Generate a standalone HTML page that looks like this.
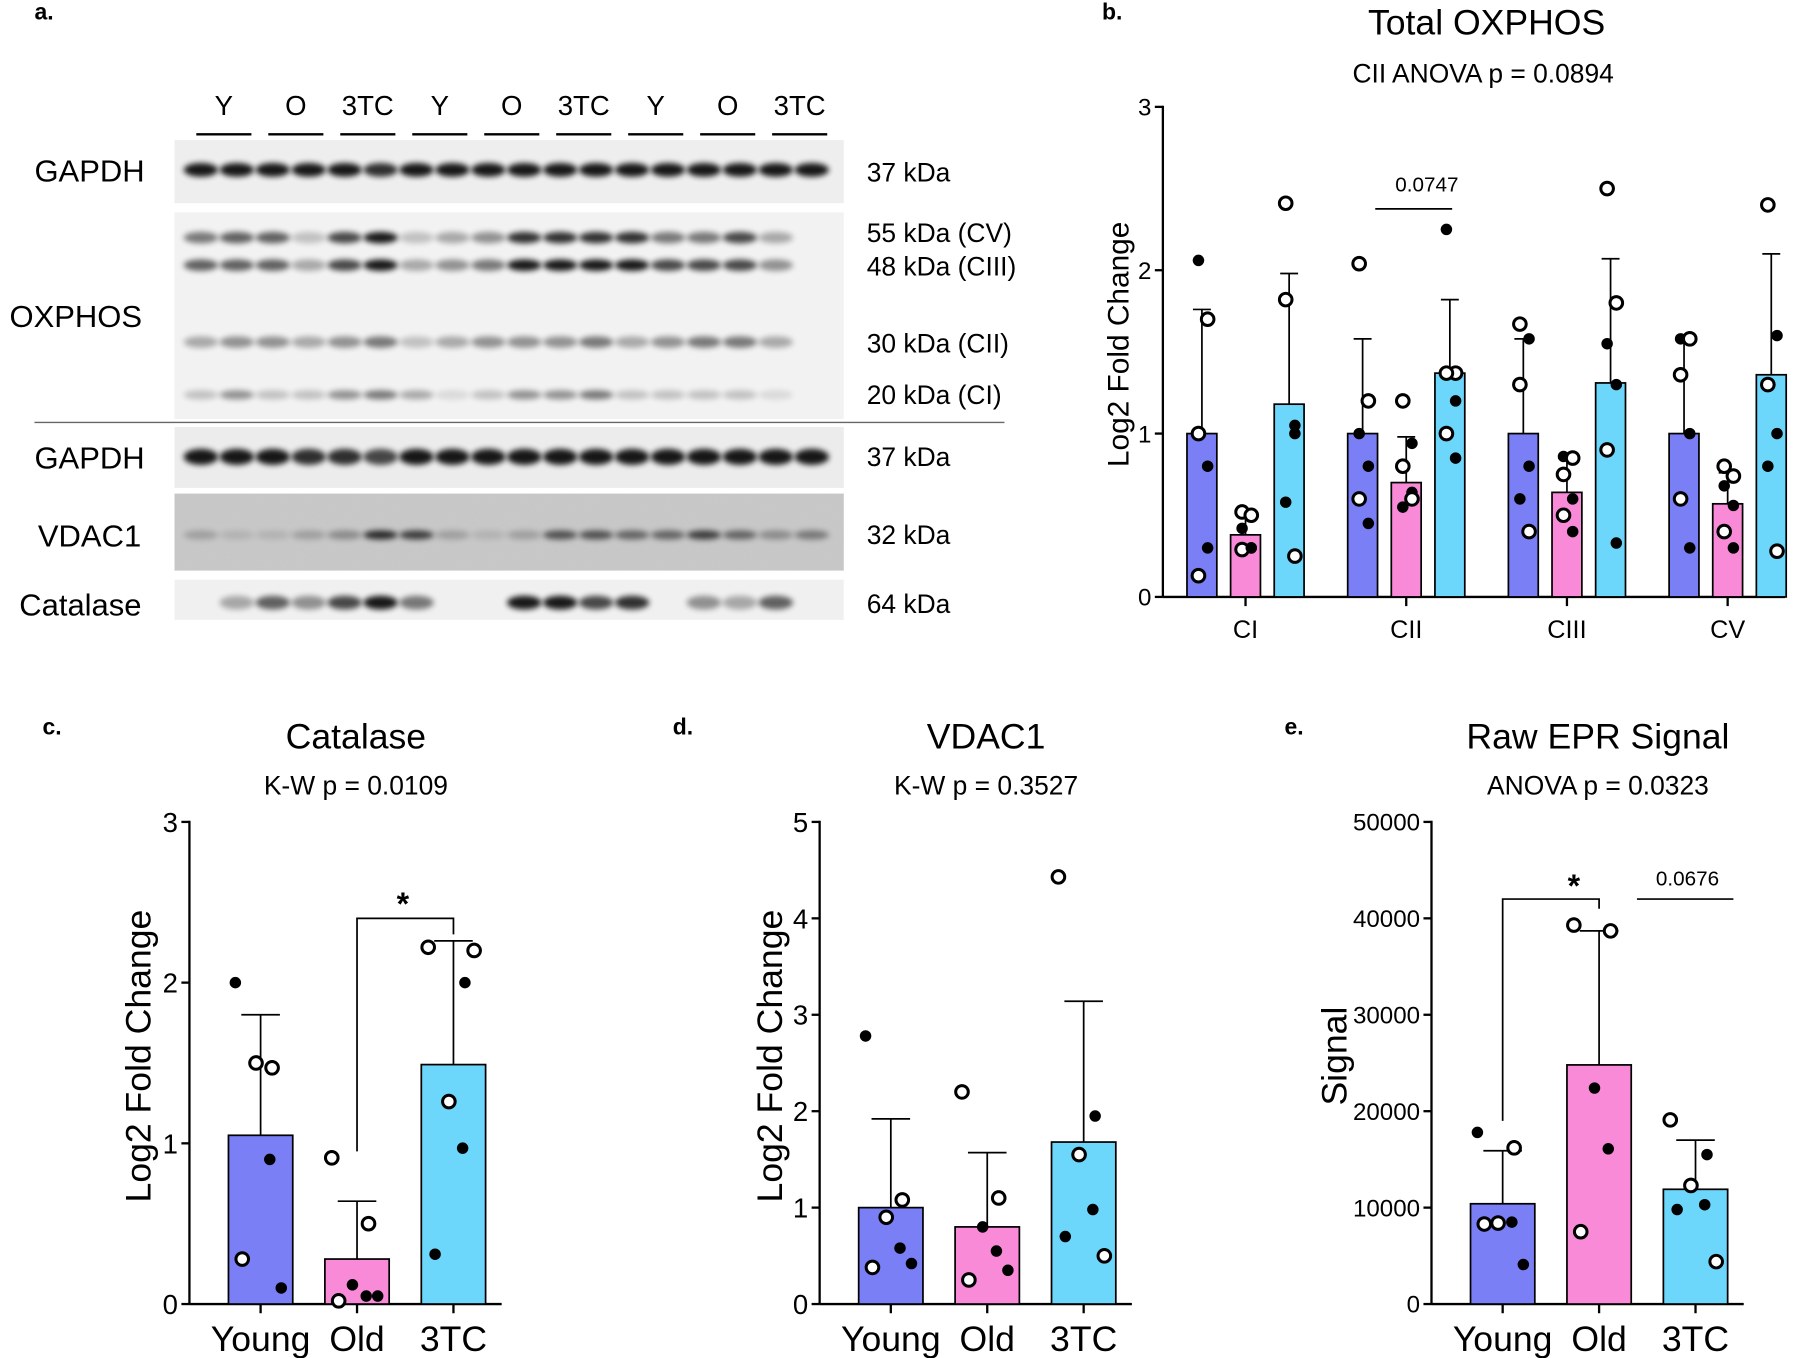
<!DOCTYPE html>
<html><head><meta charset="utf-8"><style>
html,body{margin:0;padding:0;background:#fff}
svg{display:block}
text{font-family:"Liberation Sans",Arial,sans-serif;fill:#000}
</style></head><body>
<svg id="s" width="1800" height="1358" viewBox="0 0 1568 1183" xmlns="http://www.w3.org/2000/svg">
<defs><filter id="bl" x="-50%" y="-100%" width="200%" height="300%"><feGaussianBlur stdDeviation="2.5"/></filter>
<filter id="nz" x="0" y="0" width="1" height="1"><feTurbulence type="fractalNoise" baseFrequency="0.9" numOctaves="2" seed="3"/><feColorMatrix type="matrix" values="0 0 0 0 0.5  0 0 0 0 0.5  0 0 0 0 0.5  0 0 0 0.5 0"/></filter></defs>
<g id="blot"></g>
<g id="charts"></g>
</svg>
<script>
const NS="http://www.w3.org/2000/svg";
function mk(p,tag,a,txt){const e=document.createElementNS(NS,tag);for(const k in a)e.setAttribute(k,a[k]);if(txt!==undefined)e.textContent=txt;p.appendChild(e);return e;}
const C={Y:"#7b7ff5",O:"#f98ad8",T:"#6dd6fb"};

// ---- Blot ----
const blot=document.getElementById('blot');
mk(blot,'text',{x:30,y:17,'font-size':20,'font-weight':'bold'},'a.');
const laneHdr=["Y","O","3TC","Y","O","3TC","Y","O","3TC"];
laneHdr.forEach((t,i)=>{const cx=195+i*62.7;mk(blot,'text',{x:cx,y:100,'font-size':24,'text-anchor':'middle'},t);mk(blot,'line',{x1:cx-24,x2:cx+24,y1:117,y2:117,stroke:'#000','stroke-width':2});});
const boxes=[[122,177,'#eeeeee'],[185,365,'#f2f2f2'],[372,425,'#ececec'],[430,497,'#c9c9c9'],[505,540,'#f0f0f0']];
boxes.forEach(b=>{mk(blot,'rect',{x:152,y:b[0],width:583,height:b[1]-b[0],fill:b[2]});});
mk(blot,'rect',{x:152,y:430,width:583,height:67,filter:'url(#nz)',opacity:0.5});
mk(blot,'line',{x1:30,x2:875,y1:368,y2:368,stroke:'#666','stroke-width':1.2});
const rows=[[148,[.9,.9,.9,.9,.9,.8,.9,.9,.9,.9,.9,.9,.9,.9,.9,.9,.9,.9],6],
[207,[.5,.6,.6,.2,.7,.9,.2,.3,.4,.8,.8,.8,.8,.5,.5,.7,.3,0],5],
[231,[.6,.6,.6,.3,.7,.9,.3,.4,.5,.9,.9,.9,.9,.7,.7,.7,.4,0],5],
[298,[.3,.4,.4,.3,.4,.5,.2,.3,.4,.4,.4,.5,.3,.4,.5,.5,.3,0],5],
[344,[.2,.4,.2,.2,.4,.5,.3,.1,.2,.4,.4,.5,.2,.2,.2,.2,.1,0],4],
[398,[.9,.9,.9,.8,.8,.7,.9,.9,.9,.9,.9,.9,.9,.9,.9,.9,.9,.9],7],
[466,[.2,.1,.1,.2,.3,.8,.7,.2,.1,.2,.6,.6,.5,.5,.7,.5,.3,.4],4],
[525,[0,.3,.6,.4,.7,.9,.5,0,0,.9,.9,.7,.8,0,.4,.3,.6,0],6]];
rows.forEach(r=>{r[1].forEach((v,i)=>{if(v>0)mk(blot,'ellipse',{cx:175+i*31.3,cy:r[0],rx:15,ry:r[2],fill:'#000',opacity:v,filter:'url(#bl)'});});});
[["GAPDH",78,158],["OXPHOS",66,285],["GAPDH",78,408],["VDAC1",78,476],["Catalase",70,536]].forEach(l=>mk(blot,'text',{x:l[1],y:l[2],'font-size':27,'text-anchor':'middle'},l[0]));
[["37 kDa",158],["55 kDa (CV)",211],["48 kDa (CIII)",240],["30 kDa (CII)",307],["20 kDa (CI)",352],["37 kDa",406],["32 kDa",474],["64 kDa",534]].forEach(l=>mk(blot,'text',{x:755,y:l[1],'font-size':23},l[0]));

// ---- Chart data ----
const oxCats=["CI","CII","CIII","CV"];
const oxMeanY=[1.0,1.0,1.0,1.0], oxMeanO=[0.38,0.7,0.64,0.57], oxMeanT=[1.18,1.37,1.31,1.36];
const oxErrY=[1.76,1.58,1.58,1.58], oxErrO=[0.5,0.98,0.85,0.76], oxErrT=[1.98,1.82,2.07,2.1];
const oxPtsY=[[2.06,1.7,1.0,0.8,0.13,0.3],[2.04,1.2,1.0,0.8,0.6,0.45],[1.67,1.58,1.3,0.8,0.6,0.4],[1.58,1.58,1.36,1.0,0.6,0.3]];
const oxPtsO=[[0.52,0.5,0.42,0.3,0.29,0.3],[1.2,0.94,0.8,0.64,0.55,0.6],[0.86,0.85,0.75,0.6,0.5,0.4],[0.8,0.74,0.68,0.56,0.4,0.3]];
const oxPtsT=[[2.41,1.0,1.82,1.05,0.58,0.25],[2.25,1.37,1.37,1.2,1.0,0.85],[2.5,1.8,1.55,1.3,0.9,0.33],[2.4,1.6,1.3,1.0,0.8,0.28]];
const grpNames=["Young","Old","3TC"];
const catMean=[1.05,0.28,1.49], catErr=[1.8,0.64,2.26];
const catPts=[[2.0,1.47,1.5,0.9,0.28,0.1],[0.91,0.5,0.12,0.05,0.02,0.05],[2.22,2.0,1.26,0.97,0.31,2.2]];
const vdMean=[1.0,0.8,1.68], vdErr=[1.92,1.57,3.14];
const vdPts=[[2.78,1.08,0.9,0.58,0.38,0.42],[2.2,1.1,0.8,0.55,0.25,0.35],[4.43,1.95,1.55,0.98,0.7,0.5]];
const eprMean=[10400,24800,11900], eprErr=[15900,38700,17000];
const eprPts=[[17800,16200,8400,8500,8300,4100],[39300,38700,22400,16100,7500],[19100,15500,12300,10300,9800,4400]];
const openMask=[[0,1,1,0,1,0],[1,1,0,0,1,0],[1,0,1,0,0,1]];

const ch=document.getElementById('charts');
function dot(g,x,y,open,name){const c=mk(g,'circle',{cx:x,cy:y,r:open?5.5:5,fill:open?'#fff':'#000',stroke:'#000','stroke-width':open?2.6:0});

}
function bar(g,cx,w,y0,yv,ye,col,name){
 const r=mk(g,'rect',{x:cx-w/2,y:Math.min(yv,y0),width:w,height:Math.abs(y0-yv),fill:col,stroke:'#000','stroke-width':1.5});
 
 
 mk(g,'line',{x1:cx,x2:cx,y1:yv,y2:ye,stroke:'#000','stroke-width':1.5});
 mk(g,'line',{x1:cx-w*0.3,x2:cx+w*0.3,y1:ye,y2:ye,stroke:'#000','stroke-width':1.5});
}
function yAxis(g,x,y0,y1,ticks,scale,fs){
 mk(g,'line',{x1:x,x2:x,y1:y0,y2:y1-1,stroke:'#000','stroke-width':2});
 ticks.forEach(t=>{const y=scale(t);mk(g,'line',{x1:x-7,x2:x,y1:y,y2:y,stroke:'#000','stroke-width':2});mk(g,'text',{x:x-10,y:y+fs*0.36,'font-size':fs,'text-anchor':'end'},String(t));});
}

// Panel b
(function(){
 const g=mk(ch,'g',{});
 const y0=520,k=142.3,ys=v=>y0-v*k;
 const xc=i=>1085+i*140;
 mk(g,'text',{x:960,y:17,'font-size':20,'font-weight':'bold'},'b.');
 mk(g,'text',{x:1295,y:30,'font-size':31,'text-anchor':'middle'},'Total OXPHOS');
 mk(g,'text',{x:1292,y:72,'font-size':23,'text-anchor':'middle'},'CII ANOVA p = 0.0894');
 mk(g,'text',{transform:'translate(983,300) rotate(-90)','font-size':26,'text-anchor':'middle'},'Log2 Fold Change');
 yAxis(g,1013,y0,ys(3),[0,1,2,3],ys,21);
 mk(g,'line',{x1:1013,x2:1555,y1:y0,y2:y0,stroke:'#000','stroke-width':2});
 const sets=[[oxMeanY,oxErrY,oxPtsY,C.Y,-38],[oxMeanO,oxErrO,oxPtsO,C.O,0],[oxMeanT,oxErrT,oxPtsT,C.T,38]];
 oxCats.forEach((c,i)=>{
  mk(g,'line',{x1:xc(i),x2:xc(i),y1:y0,y2:y0+8,stroke:'#000','stroke-width':2});
  mk(g,'text',{x:xc(i),y:y0+36,'font-size':22,'text-anchor':'middle'},c);
  sets.forEach((s,j)=>{const cx=xc(i)+s[4];bar(g,cx,26,y0,ys(s[0][i]),ys(s[1][i]),s[3],'bar-'+c.toLowerCase()+'-'+grpNames[j].toLowerCase());
   s[2][i].forEach((v,p)=>dot(g,cx+(p%2?5:-3),ys(v),openMask[(i+j)%3][p],'point'));});
 });
 mk(g,'line',{x1:1198,x2:1265,y1:182,y2:182,stroke:'#000','stroke-width':1.5});
 mk(g,'text',{x:1243,y:167,'font-size':18,'text-anchor':'middle'},'0.0747');
})();

function groupChart(o){
 const g=mk(ch,'g',{});
 const y0=1136,ys=v=>y0-v*o.k;
 const xc=i=>o.x+62+i*84;
 mk(g,'text',{x:o.x-128,y:640,'font-size':20,'font-weight':'bold'},o.letter);
 mk(g,'text',{x:o.x+145,y:652,'font-size':31,'text-anchor':'middle'},o.title);
 mk(g,'text',{x:o.x+145,y:692,'font-size':23,'text-anchor':'middle'},o.sub);
 mk(g,'text',{transform:`translate(${o.ylx},920) rotate(-90)`,'font-size':31,'text-anchor':'middle'},o.ylab);
 yAxis(g,o.x,y0,ys(o.max),o.ticks,ys,o.fs);
 mk(g,'line',{x1:o.x,x2:o.x+272,y1:y0,y2:y0,stroke:'#000','stroke-width':2});
 const cols=[C.Y,C.O,C.T];
 grpNames.forEach((n,i)=>{
  mk(g,'line',{x1:xc(i),x2:xc(i),y1:y0,y2:y0+8,stroke:'#000','stroke-width':2});
  mk(g,'text',{x:xc(i),y:y0+41,'font-size':31,'text-anchor':'middle'},n);
  bar(g,xc(i),56,y0,ys(o.mean[i]),ys(o.err[i]),cols[i],'bar-'+n.toLowerCase());
  o.pts[i].forEach((v,p)=>dot(g,xc(i)+[-22,10,-4,8,-16,18][p],ys(v),openMask[i][p],'point'));
 });
 if(o.extra)o.extra(g,xc,ys);
}
groupChart({name:'catalase-chart',letter:'c.',title:'Catalase',sub:'K-W p = 0.0109',ylab:'Log2 Fold Change',ylx:131,x:165,k:140,max:3,fs:24,ticks:[0,1,2,3],mean:catMean,err:catErr,pts:catPts,
 extra:(g,xc,ys)=>{mk(g,'path',{d:`M${xc(1)} ${ys(0.95)} V${ys(2.4)} H${xc(2)} V${ys(2.3)}`,fill:'none',stroke:'#000','stroke-width':1.5});mk(g,'text',{x:351,y:ys(2.4)-3,'font-size':28,'text-anchor':'middle','font-weight':'bold'},'*');}});
groupChart({name:'vdac1-chart',letter:'d.',title:'VDAC1',sub:'K-W p = 0.3527',ylab:'Log2 Fold Change',ylx:681,x:714,k:84,max:5,fs:24,ticks:[0,1,2,3,4,5],mean:vdMean,err:vdErr,pts:vdPts});
groupChart({name:'epr-signal-chart',letter:'e.',title:'Raw EPR Signal',sub:'ANOVA p = 0.0323',ylab:'Signal',ylx:1173,x:1247,k:0.0084,max:50000,fs:21,ticks:[0,10000,20000,30000,40000,50000],mean:eprMean,err:eprErr,pts:eprPts,
 extra:(g,xc,ys)=>{mk(g,'path',{d:`M${xc(0)} ${ys(19000)} V${ys(42000)} H${xc(1)} V${ys(41000)}`,fill:'none',stroke:'#000','stroke-width':1.5});mk(g,'text',{x:1371,y:ys(42000)-2,'font-size':28,'text-anchor':'middle','font-weight':'bold'},'*');
 mk(g,'line',{x1:1426,x2:1510,y1:ys(42000),y2:ys(42000),stroke:'#000','stroke-width':1.5});mk(g,'text',{x:1470,y:ys(42000)-12,'font-size':18,'text-anchor':'middle'},'0.0676');}});
</script>
</body></html>
